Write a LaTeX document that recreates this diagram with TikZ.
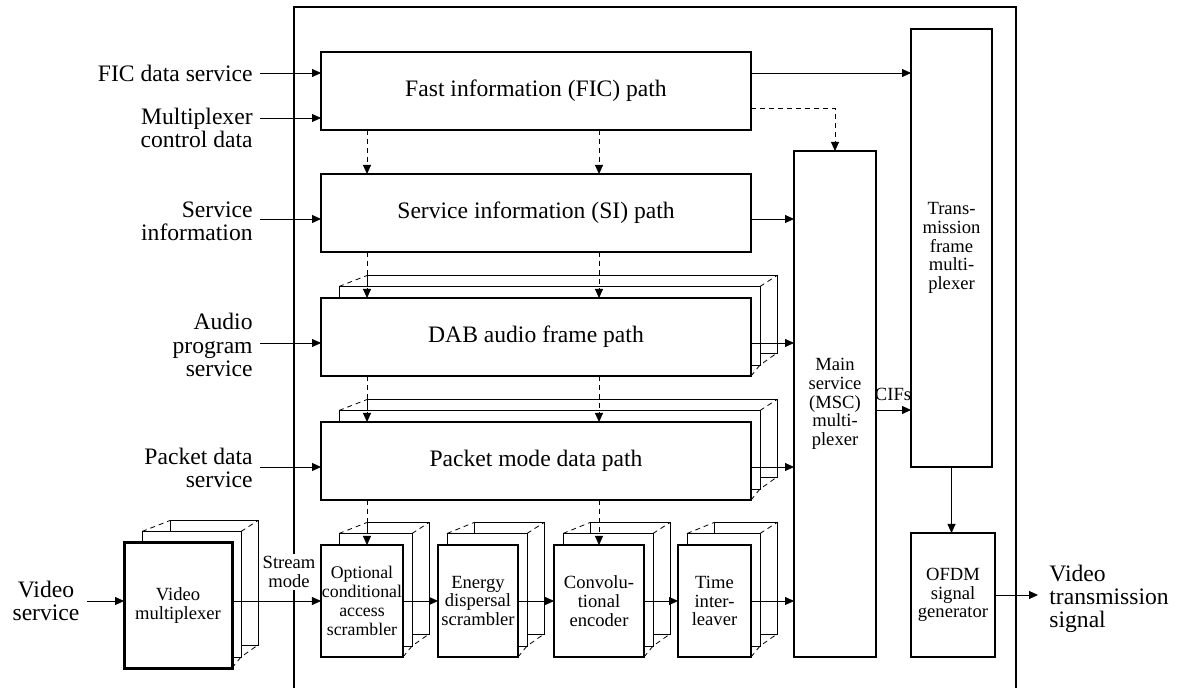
\documentclass[tikz,border=0pt]{standalone}
\usepackage{fontspec}
\setmainfont{Liberation Serif}
\usetikzlibrary{arrows.meta,backgrounds}

\newcommand\smalltxt{\fontsize{9.3}{9.4}\selectfont}
\tikzset{
	blk/.style={draw,fill=white,outer sep=0pt,inner sep=0.5pt,align=center},
	pathblk/.style={blk,minimum width=215pt,minimum height=39pt},
	stageblk/.style={blk,minimum height=56pt,font=\smalltxt},
	lbl/.style={align=right,inner ysep=0pt,inner xsep=3.5pt},
	dashline/.style={dash pattern=on 2.5pt off 2pt},
	dasharr/.style={->,dashline}
}
% two copies behind a block: node, left inset of 2nd and 3rd copy
\newcommand\backlayers[3]{%
	\draw[fill=white] ([shift={(#3,-22.5)}]#1.north west) rectangle ([shift={(26,-23)}]#1.south east);
	\draw[fill=white] ([shift={(#2,-11.5)}]#1.north west) rectangle ([shift={(9,-11)}]#1.south east);
	\draw[dashline] ([shift={(#2,-11.5)}]#1.north west) -- ([shift={(#3,-22.5)}]#1.north west)
		([shift={(9,-11.5)}]#1.north east) -- ([shift={(26,-22.5)}]#1.north east)
		(#1.south east) -- ([shift={(9,-11)}]#1.south east) -- ([shift={(26,-23)}]#1.south east);
}

\begin{document}
\begin{tikzpicture}[x=0.5pt,y=-0.5pt,line width=0.7pt,>={Triangle[length=4.5pt,width=4pt]},
	font=\fontsize{11.8}{11.6}\selectfont]
	\useasboundingbox (0,0) rectangle (1177,688);
	\draw (294,688) -- (294,7) -- (1016,7) -- (1016,688);

	% path blocks
	\node[pathblk] (fic) at (536,91) {Fast information (FIC) path};
	\node[pathblk] (si) at (536,213) {Service information (SI) path};
	\node[pathblk] (dab) at (536,337) {DAB audio frame path};
	\node[pathblk] (pkt) at (536,461) {Packet mode data path};

	% stages
	\node[stageblk,minimum width=41pt,font=\fontsize{8.9}{9.4}\selectfont] (ocas) at (362,601) {Optional\\conditional\\access\\scrambler};
	\node[stageblk,minimum width=40pt] (eds) at (478,601) {Energy\\dispersal\\scrambler};
	\node[stageblk,minimum width=45pt] (conv) at (599,601) {Convolu-\\tional\\encoder};
	\node[stageblk,minimum width=36.5pt] (til) at (714.5,601) {Time\\inter-\\leaver};
	\node[blk,line width=1.5pt,minimum width=54pt,minimum height=62.5pt,font=\smalltxt] (vmux) at (178,605.5) {Video\\multiplexer};

	\node[blk,minimum width=41pt,minimum height=253pt,font=\smalltxt] (msc) at (835,404) {Main\\service\\(MSC)\\multi-\\plexer};
	\node[blk,minimum width=40.5pt,minimum height=219pt,font=\smalltxt] (tfm) at (951.5,248) {Trans-\\mission\\frame\\multi-\\plexer};
	\node[blk,minimum width=42pt,minimum height=62pt,font=\smalltxt] (ofdm) at (953,595) {OFDM\\signal\\generator};

	\begin{pgfonlayer}{background}
		\backlayers{dab}{18}{46}
		\backlayers{pkt}{18}{46}
		\backlayers{ocas}{18}{46}
		\backlayers{eds}{9}{36}
		\backlayers{conv}{9}{36}
		\backlayers{til}{9}{36}
		\backlayers{vmux}{18}{46}
	\end{pgfonlayer}

	% inputs
	\node[lbl,anchor=east] (ficin) at (260,73) {FIC data service};
	\node[lbl,anchor=east] (mcdin) at (260,128) {Multiplexer\\control data};
	\node[lbl,anchor=east] (siin) at (260,221) {Service\\information};
	\node[lbl,anchor=east] (audin) at (260,345) {Audio\\program\\service};
	\node[lbl,anchor=east] (pktin) at (260,468) {Packet data\\service};
	\node[lbl,align=center] (vidin) at (46,601) {Video\\service};
	\node[lbl,align=left,anchor=west] (vtsout) at (1042,599) {Video\\transmission\\signal};
	\node[font=\smalltxt,fill=white,inner sep=1pt,align=center] (smode) at (289,572) {Stream\\mode};
	\node[font=\smalltxt,inner sep=0pt] (cifs) at (893,394) {CIFs};

	\draw[->] (ficin.east) -- (ficin.east -| fic.west);
	\draw[->] (mcdin.east |- 0,118) -- (fic.west |- 0,118);
	\foreach \lb/\nd in {siin/si,audin/dab,pktin/pkt}
		\draw[->] ([yshift=-3pt]\nd.west -| \lb.east) -- ([yshift=-3pt]\nd.west);
	\draw[->] (vidin.east |- ocas) -- (vmux.west |- ocas);
	\draw[->] (vmux.east |- ocas) -- (ocas.west);

	% chain
	\draw[->] (ocas.east) -- (eds.west);
	\draw[->] (eds.east) -- (conv.west);
	\draw[->] (conv.east) -- (til.west);
	\draw[->] (til.east) -- (til.east -| msc.west);
	\foreach \nd in {si,dab,pkt}
		\draw[->] ([yshift=-3pt]\nd.east) -- ([yshift=-3pt]\nd.east -| msc.west);

	% control
	\foreach \a/\b in {fic/si,si/dab,dab/pkt,pkt/ocas}
		\draw[dasharr] (\a.south -| 367,0) -- (\b.north -| 367,0);
	\foreach \a/\b in {fic/si,si/dab,dab/pkt,pkt/conv}
		\draw[dasharr] (\a.south -| 599,0) -- (\b.north -| 599,0);
	\draw[dasharr] ([yshift=-8.5pt]fic.east) -| (msc.north);
	\draw[->] ([yshift=9pt]fic.east) -- ([yshift=9pt]fic.east -| tfm.west);

	% output
	\draw[->] ([yshift=-3pt]msc.east) -- ([yshift=-3pt]msc.east -| tfm.west);
	\draw[->] (tfm.south) -- (tfm.south |- ofdm.north);
	\draw[->] (ofdm.east) -- ([xshift=-2pt]vtsout.west |- ofdm.east);
\end{tikzpicture}
\end{document}
